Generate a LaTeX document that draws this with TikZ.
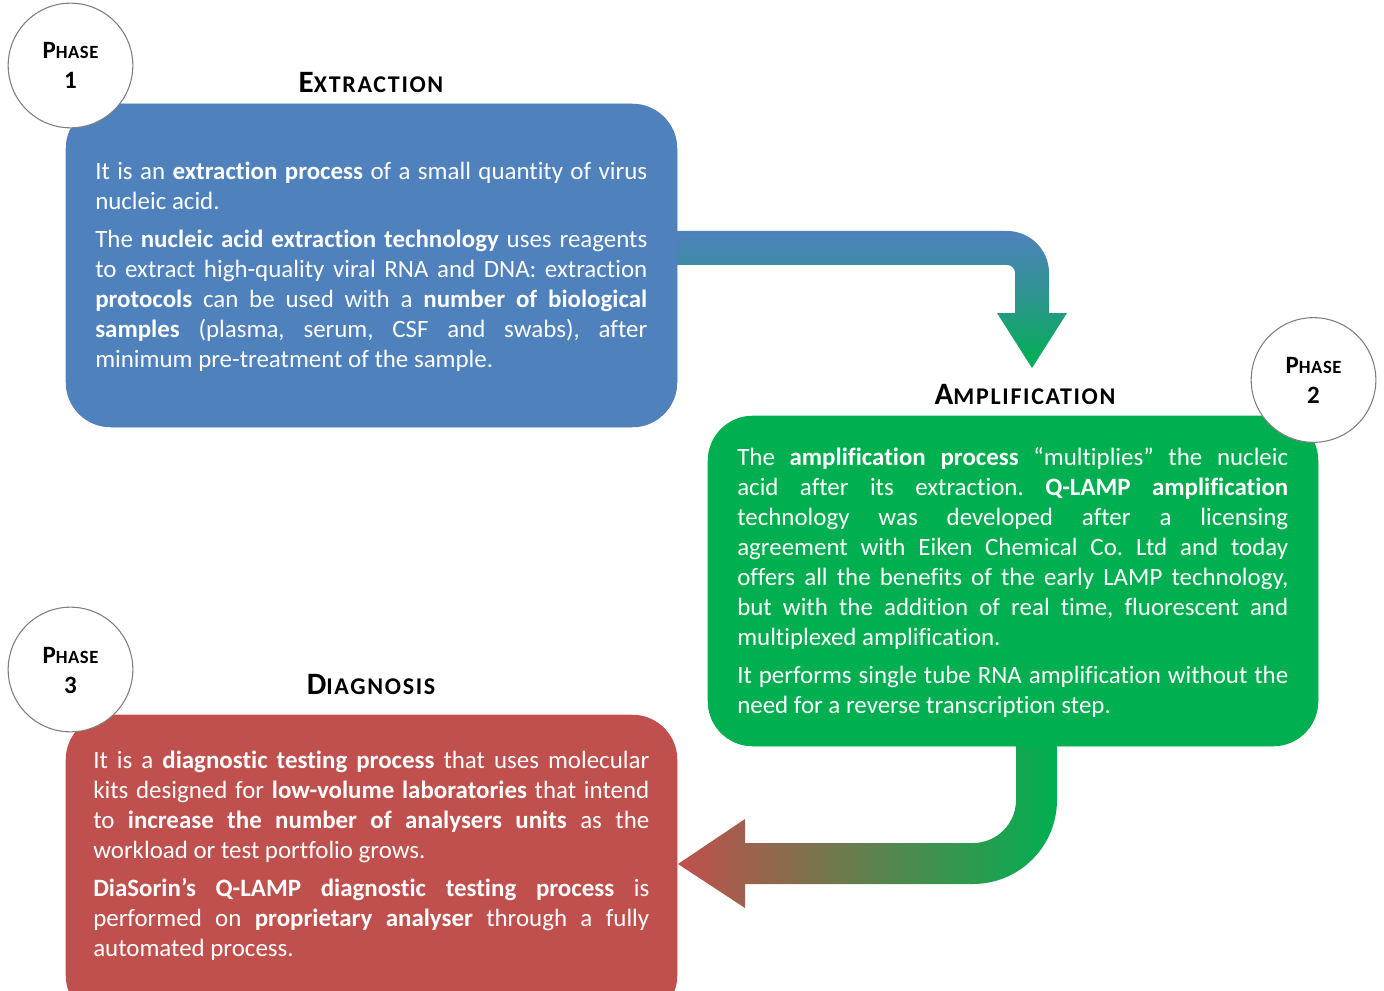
\documentclass[tikz,border=0pt]{standalone}
\usepackage{fontspec}
\setmainfont{Carlito}[RawFeature=-liga]
\definecolor{xblue}{HTML}{4F81BD}
\definecolor{xgreen}{HTML}{00B050}
\definecolor{xred}{HTML}{C0504D}
\definecolor{xgray}{HTML}{7F7F7F}
\newcommand\ttlsc[2]{#1{\fontsize{18}{20}\selectfont\addfontfeatures{LetterSpace=7}#2}}
\newcommand\phsc{P{\fontsize{14}{16}\selectfont\addfontfeatures{LetterSpace=3}HASE}}
\frenchspacing
\begin{document}
\begin{tikzpicture}[x=0.75pt,y=-0.75pt,
  phase/.style={circle,draw=xgray,fill=white,minimum size=93.5pt,inner sep=0pt,line width=0.8pt},
  phtext/.style={anchor=base,inner sep=0pt,font=\fontsize{18.7}{22.5}\selectfont\bfseries},
  box/.style={rounded corners=33.75pt,inner sep=0pt,minimum width=458.25pt},
  body/.style={anchor=north west,inner sep=0pt,text=white,align=justify,font=\fontsize{18.7}{22.5}\selectfont},
  title/.style={anchor=base,inner sep=0pt,font=\fontsize{23.3}{28}\selectfont\bfseries},
]
\useasboundingbox (0,0) rectangle (1384,991);
\clip (0,0) rectangle (1384,991);

% boxes (nodes)
\node[box,fill=xblue,minimum height=242.25pt] (box1) at (371.5,265.5) {};
\node[box,fill=xgreen,minimum width=457.5pt,minimum height=247.5pt] (box2) at (1013,581) {};
\node[box,fill=xred,minimum height=228.75pt] (box3) at (371.5,867.5) {};

% arrow 1 (blue -> green)
\shade[top color=xblue,bottom color=xgreen,middle color=xblue!55!xgreen]
  (660,231) -- (1007,231) arc[start angle=-90,end angle=0,radius=42]
  -- (1049,313) -- (1067,313) -- (1032,368) -- (997,313) -- (1015,313)
  -- (1015,273) arc[start angle=0,end angle=-90,radius=8]
  -- (660,265) -- cycle;

% arrow 2 (green -> red)
\shade[left color=xred,right color=xgreen,middle color=xred!50!xgreen]
  (1057,740) -- (1057,800) arc[start angle=0,end angle=90,radius=84]
  -- (745,884) -- (745,908) -- (678,864) -- (745,819) -- (745,843)
  -- (973,843) arc[start angle=90,end angle=0,radius=43]
  -- (1016,740) -- cycle;

% redraw boxes on top of arrow tails
\fill[xblue,rounded corners=33.75pt] (box1.south west) rectangle (box1.north east);
\fill[xgreen,rounded corners=33.75pt] (box2.south west) rectangle (box2.north east);
\fill[xred,rounded corners=33.75pt] (box3.south west) rectangle (box3.north east);

% phase circles
\node[phase] (c1) at (70.5,65.5) {};
\node[phtext] (c1a) at (70.5,59) {\phsc};
\node[phtext] (c1b) at (70.5,89) {1};
\node[phase] (c2) at (1313.5,380) {};
\node[phtext] (c2a) at (1313.5,373.5) {\phsc};
\node[phtext] (c2b) at (1313.5,403.5) {2};
\node[phase] (c3) at (70.5,669.5) {};
\node[phtext] (c3a) at (70.5,663) {\phsc};
\node[phtext] (c3b) at (70.5,693) {3};

% titles
\node[title] (t1) at (371,93) {\ttlsc{E}{XTRACTION}};
\node[title] (t2) at (1025,404) {\ttlsc{A}{MPLIFICATION}};
\node[title] (t3) at (371,694) {\ttlsc{D}{IAGNOSIS}};

% body texts
\node[body,text width=414pt] (b1) at (95,156.3) {\setlength{\parskip}{6pt}\rule{0pt}{17pt}%
It is an \textbf{extraction process} of a small quantity of virus\linebreak nucleic acid.\par
The \textbf{nucleic acid extraction technology} uses reagents\linebreak to extract high-quality viral RNA and DNA: extraction\linebreak \textbf{protocols} can be used with a \textbf{number of biological}\linebreak \textbf{samples} (plasma, serum, CSF and swabs), after\linebreak minimum pre-treatment of the sample.};

\node[body,text width=413.25pt] (b2) at (737,442.3) {\setlength{\parskip}{6pt}\rule{0pt}{17pt}%
The \textbf{amplification process} “multiplies” the nucleic\linebreak acid after its extraction. \textbf{Q-LAMP amplification}\linebreak technology was developed after a licensing\linebreak agreement with Eiken Chemical Co. Ltd and today\linebreak offers all the benefits of the early LAMP technology,\linebreak but with the addition of real time, fluorescent and\linebreak multiplexed amplification.\par
It performs single tube RNA amplification without the\linebreak need for a reverse transcription step.};

\node[body,text width=417pt] (b3) at (93,745.3) {\setlength{\parskip}{6pt}\rule{0pt}{17pt}%
It is a \textbf{diagnostic testing process} that uses molecular\linebreak kits designed for \textbf{low-volume laboratories} that intend\linebreak to \textbf{increase the number of analysers units} as the\linebreak workload or test portfolio grows.\par
\textbf{DiaSorin’s Q-LAMP diagnostic testing process} is\linebreak performed on \textbf{proprietary analyser} through a fully\linebreak automated process.};
\end{tikzpicture}
\end{document}
